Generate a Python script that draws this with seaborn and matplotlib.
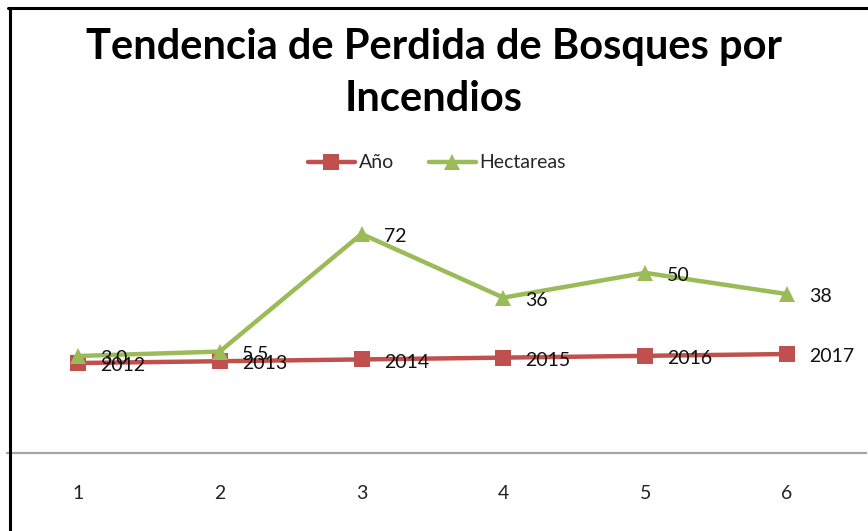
import matplotlib
matplotlib.use("Agg")
import matplotlib.pyplot as plt
import seaborn as sns
import pandas as pd
from matplotlib.lines import Line2D

sns.set_style("white")
plt.rcParams['font.family'] = ['Lato', 'DejaVu Sans']

# Data
categorias = [1, 2, 3, 4, 5, 6]
anio = [2012, 2013, 2014, 2015, 2016, 2017]
hectareas = [3.0, 5.5, 72, 36, 50, 38]
etiquetas_hect = ["3.0", "5.5", "72", "36", "50", "38"]
titulo = "Tendencia de Perdida de Bosques por\nIncendios"

RED = "#C0504D"
GREEN = "#9BBB59"

W, H = 868, 531
fig = plt.figure(figsize=(W / 100, H / 100), dpi=100)
ax = fig.add_axes([7 / W, 1 - 453 / H, (866 - 7) / W, (453 - 180) / H])
ax2 = ax.twinx()

df = pd.DataFrame({"cat": categorias, "Año": anio, "Hectareas": hectareas})

sns.lineplot(data=df, x="cat", y="Año", ax=ax, color=RED, linewidth=3.2,
             marker="s", markersize=11, markeredgewidth=0, legend=False)
sns.lineplot(data=df, x="cat", y="Hectareas", ax=ax2, color=GREEN, linewidth=3.2,
             marker="^", markersize=12, markeredgewidth=0, legend=False)

ax.set_xlim(0.5, 6.557)
ax.set_ylim(1962, 2113.7)
ax2.set_ylim(-51.85, 102.5)

for a in (ax, ax2):
    a.set_ylabel("")
    a.set_xlabel("")
    a.set_yticks([])
    for s in ("top", "right", "left", "bottom"):
        a.spines[s].set_visible(False)
ax.spines["bottom"].set_visible(True)
ax.spines["bottom"].set_color("#A6A6A6")
ax.spines["bottom"].set_linewidth(1.6)
ax.set_xticks(categorias)
ax.set_xticklabels([str(c) for c in categorias], fontsize=14, color="#222222")
ax.tick_params(axis="x", length=0, pad=23)

for x, v in zip(categorias, anio):
    ax.annotate(str(v), (x, v), xytext=(16, -2), textcoords="offset points",
                ha="left", va="center", fontsize=14, color="#111111")
for x, v, t in zip(categorias, hectareas, etiquetas_hect):
    ax2.annotate(t, (x, v), xytext=(16, -2), textcoords="offset points",
                 ha="left", va="center", fontsize=14, color="#111111")

fig.text(434 / W, 1 - 73 / H, titulo, ha="center", va="center",
         fontsize=30, fontweight="bold", linespacing=1.45, color="black")

handles = [
    Line2D([], [], color=RED, lw=3.2, marker="s", markersize=11, markeredgewidth=0),
    Line2D([], [], color=GREEN, lw=3.2, marker="^", markersize=12, markeredgewidth=0),
]
fig.legend(handles, ["Año", "Hectareas"], loc="center", bbox_to_anchor=(437 / W, 1 - 163 / H),
           ncol=2, frameon=False, fontsize=14, handlelength=2.4, handletextpad=0.2,
           columnspacing=1.8)

# frame lines (top and left)
fig.add_artist(Line2D([8 / W, 1.0], [1 - 8 / H, 1 - 8 / H], color="black", lw=2.2,
                      transform=fig.transFigure))
fig.add_artist(Line2D([10 / W, 10 / W], [0, 1 - 8 / H], color="black", lw=2.2,
                      transform=fig.transFigure))

fig.savefig("out.png", dpi=100)
